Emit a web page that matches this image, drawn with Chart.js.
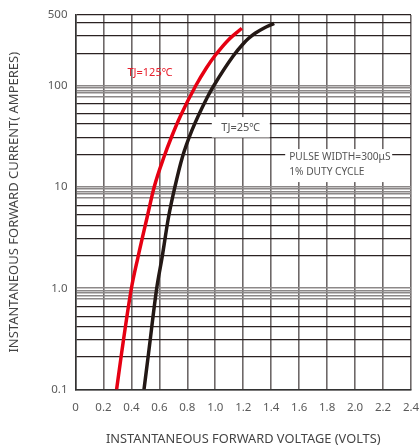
<!DOCTYPE html>
<html>
<head>
<meta charset="utf-8">
<script src="https://cdn.jsdelivr.net/npm/chart.js@4.4.0/dist/chart.umd.min.js"></script>
<style>
  html, body { margin: 0; padding: 0; background: #fff; }
  #wrap { width: 419px; height: 447px; }
</style>
</head>
<body>
<div id="wrap"><canvas id="myChart" width="419" height="447"></canvas></div>
<script>
// forward voltage (V) vs forward current (A)
var hotV = [0.294, 0.33, 0.40, 0.446, 0.512, 0.563, 0.634, 0.686, 0.75, 0.86, 0.936, 1.0, 1.097, 1.19];
var hotI = [0.1, 0.23, 1.0, 2.0, 5.0, 10, 20, 31, 50, 100, 150, 200, 287, 370];
var coldV = [0.49, 0.523, 0.581, 0.619, 0.665, 0.711, 0.764, 0.832, 0.943, 0.989, 1.132, 1.2, 1.237, 1.285, 1.346, 1.421];
var coldI = [0.1, 0.23, 1.0, 2.0, 5.0, 10, 19.6, 36, 77, 100, 200, 260, 293, 330, 370, 414];

var xTicks = [0, 0.2, 0.4, 0.6, 0.8, 1.0, 1.2, 1.4, 1.6, 1.8, 2.0, 2.2, 2.4];
var yLabels = { 0.1: "0.1", 1: "1.0", 10: "10", 100: "100", 500: "500" };
// minor grid lines inside each decade, as drawn on the sheet
var gridMult = [1, 2.1, 3.1, 4.2, 5.3, 6.6, 7.8, 8.5, 9, 9.5];
var decades = [0.1, 1, 10, 100];

var yGrid = [];
decades.forEach(function (d) {
    gridMult.forEach(function (m) {
        var v = +(d * m).toPrecision(4);
        if (v < 500) yGrid.push(v);
    });
});
yGrid.push(500);

function pts(xs, ys) {
    return xs.map(function (x, i) { return { x: x, y: ys[i] }; });
}

function isLight(v) {
    var m = v / Math.pow(10, Math.floor(Math.log10(v) + 1e-9));
    return m > 7.5 || Math.abs(m - 1) < 1e-6;
}

var notes = {
    id: "notes",
    afterDatasetsDraw: function (chart) {
        var c = chart.ctx, xs = chart.scales.x, ys = chart.scales.y;
        c.save();
        c.textBaseline = "middle";
        // TJ=125
        c.font = "11px 'Noto Sans'";
        c.fillStyle = "#e8202e";
        c.textAlign = "center";
        c.fillText("TJ=125\u2103", xs.getPixelForValue(0.533), ys.getPixelForValue(133.6));
        // TJ=25 with white box
        var bx = xs.getPixelForValue(0.975), by = ys.getPixelForValue(49.1);
        c.fillStyle = "#fff";
        c.fillRect(bx, by, 58, 20.5);
        c.fillStyle = "#555";
        c.fillText("TJ=25\u2103", bx + 29, by + 11);
        // pulse note
        c.font = "10.2px 'Noto Sans'";
        var px = xs.getPixelForValue(1.5), py = ys.getPixelForValue(23.7);
        c.fillStyle = "#fff";
        c.fillRect(px, py, 107, 33);
        c.fillStyle = "#555";
        c.textAlign = "left";
        c.fillText("PULSE WIDTH=300\u03bcS", px + 4, py + 8);
        c.fillText("1% DUTY CYCLE", px + 4, py + 23);
        c.restore();
    }
};

new Chart("myChart", {
    type: "scatter",
    data: {
        datasets: [{
            label: "TJ=125",
            data: pts(hotV, hotI),
            showLine: true,
            borderColor: "#e60012",
            borderWidth: 3.5,
            pointRadius: 0,
            cubicInterpolationMode: "monotone"
        }, {
            label: "TJ=25",
            data: pts(coldV, coldI),
            showLine: true,
            borderColor: "#231815",
            borderWidth: 3.5,
            pointRadius: 0,
            cubicInterpolationMode: "monotone"
        }]
    },
    options: {
        responsive: false,
        animation: false,
        layout: { padding: { top: 15, right: 8, left: 0, bottom: 0 } },
        plugins: { legend: { display: false }, tooltip: { enabled: false } },
        scales: {
            x: {
                type: "linear",
                min: 0,
                max: 2.4,
                afterBuildTicks: function (axis) {
                    axis.ticks = xTicks.map(function (v) { return { value: v }; });
                },
                afterFit: function (axis) {
                    axis.height = 57.5;
                    axis.paddingRight = 8;
                    axis.paddingLeft = 0;
                },
                ticks: {
                    autoSkip: false,
                    maxRotation: 0,
                    padding: 11,
                    color: "#5a5a5a",
                    font: { family: "'Noto Sans'", size: 11.5 },
                    callback: function (v) {
                        v = Math.round(v * 10) / 10;
                        return v === 0 ? "0" : v.toFixed(1);
                    }
                },
                grid: { drawTicks: false, color: "#6e6868", lineWidth: 1.6 },
                border: { color: "#333", width: 1.5 },
                title: {
                    display: true,
                    text: "INSTANTANEOUS FORWARD VOLTAGE (VOLTS)",
                    color: "#444",
                    font: { family: "'Noto Sans'", size: 12.8 },
                    padding: { top: 9, bottom: 0 }
                }
            },
            y: {
                type: "logarithmic",
                min: 0.1,
                max: 500,
                afterBuildTicks: function (axis) {
                    axis.ticks = yGrid.map(function (v) { return { value: v }; });
                },
                afterFit: function (axis) { axis.width = 75.5; },
                ticks: {
                    autoSkip: false,
                    padding: 8,
                    color: "#5a5a5a",
                    font: { family: "'Noto Sans'", size: 11.5 },
                    callback: function (v) { return yLabels[v] || ""; }
                },
                grid: {
                    drawTicks: false,
                    color: function (ctx) {
                        return isLight(ctx.tick ? ctx.tick.value : 1) ? "#8c8888" : "#2b2222";
                    },
                    lineWidth: function (ctx) {
                        return isLight(ctx.tick ? ctx.tick.value : 1) ? 1.6 : 1.2;
                    }
                },
                border: { color: "#333", width: 1.5 },
                title: {
                    display: true,
                    text: "INSTANTANEOUS FORWARD CURRENT( AMPERES)",
                    color: "#444",
                    font: { family: "'Noto Sans'", size: 13 },
                    padding: { top: 6, bottom: 4 }
                }
            }
        }
    },
    plugins: [notes]
});
</script>
</body>
</html>
